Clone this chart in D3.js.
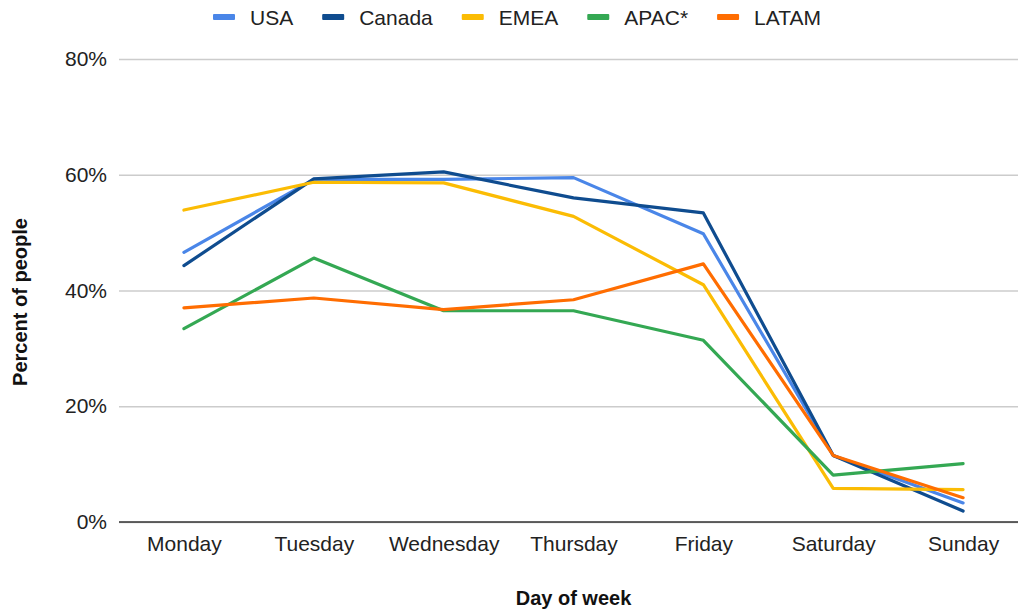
<!DOCTYPE html>
<html>
<head>
<meta charset="utf-8">
<script src="https://cdn.jsdelivr.net/npm/d3@7"></script>
<style>
  html, body { margin: 0; padding: 0; background: #fff; }
  svg { display: block; font-family: "Liberation Sans", Arial, Helvetica, sans-serif; }
</style>
</head>
<body>
<svg id="chart" width="1018" height="610"></svg>
<script>
// Share of people by day of week, per region (percent)
const days = ["Monday", "Tuesday", "Wednesday", "Thursday", "Friday", "Saturday", "Sunday"];
const regions = ["USA", "Canada", "EMEA", "APAC*", "LATAM"];
const usa    = [46.6, 59.2, 59.2, 59.5, 49.8, 11.5, 3.3];
const canada = [44.3, 59.3, 60.5, 56.0, 53.4, 11.5, 1.9];
const emea   = [53.9, 58.7, 58.6, 52.8, 41.0, 5.8, 5.6];
const apac   = [33.4, 45.6, 36.5, 36.5, 31.4, 8.1, 10.1];
const latam  = [37.0, 38.7, 36.7, 38.4, 44.6, 11.5, 4.2];
const yTicks = [0, 20, 40, 60, 80];

const seriesValues = [usa, canada, emea, apac, latam];
const colors = ["#4a86e8", "#0f4c8f", "#fbbc04", "#34a853", "#ff6d01"];

const W = 1018, H = 610;
const margin = { left: 119, right: -10, top: 59, bottom: 88 };
const svg = d3.select("#chart");

const x = d3.scalePoint()
  .domain(days)
  .range([margin.left, W - margin.right])
  .padding(0.5);

const y = d3.scaleLinear()
  .domain([0, 80])
  .range([H - margin.bottom, margin.top]);

// Horizontal gridlines and percentage labels
const yAxis = svg.append("g")
  .attr("transform", `translate(${margin.left},0)`)
  .call(d3.axisLeft(y).tickValues(yTicks).tickFormat(d => d + "%")
    .tickSize(-(W - margin.left)).tickPadding(12));
yAxis.select(".domain").remove();
yAxis.selectAll(".tick line").attr("stroke", "#cccccc").attr("stroke-width", 1.3);
yAxis.selectAll(".tick text")
  .attr("font-size", 21).attr("fill", "#222").attr("font-family", "Liberation Sans, Arial, sans-serif");

// Day labels along the bottom
const xAxis = svg.append("g")
  .attr("transform", `translate(0,${H - margin.bottom})`)
  .call(d3.axisBottom(x).tickSize(0).tickPadding(14));
xAxis.select(".domain").remove();
xAxis.selectAll(".tick text")
  .attr("font-size", 21).attr("fill", "#222").attr("font-family", "Liberation Sans, Arial, sans-serif");

// Baseline at 0%
svg.append("line")
  .attr("x1", margin.left).attr("x2", W)
  .attr("y1", y(0)).attr("y2", y(0))
  .attr("stroke", "#333").attr("stroke-width", 1.5);

// Region lines
const line = d3.line()
  .x((d, i) => x(days[i]))
  .y(d => y(d));

svg.append("g")
  .selectAll("path")
  .data(seriesValues)
  .join("path")
  .attr("d", line)
  .attr("fill", "none")
  .attr("stroke", (d, i) => colors[i])
  .attr("stroke-width", 3.2)
  .attr("stroke-linejoin", "round")
  .attr("stroke-linecap", "round");

// Axis titles
svg.append("text")
  .attr("x", (margin.left + W - margin.right) / 2)
  .attr("y", 605)
  .attr("text-anchor", "middle")
  .attr("font-size", 20).attr("font-weight", "bold").attr("fill", "#111")
  .text("Day of week");

svg.append("text")
  .attr("transform", `translate(27,302) rotate(-90)`)
  .attr("text-anchor", "middle")
  .attr("font-size", 20).attr("font-weight", "bold").attr("fill", "#111")
  .text("Percent of people");

// Legend across the top
const legend = svg.append("g").attr("transform", "translate(213,17)");
let cursor = 0;
regions.forEach((name, i) => {
  const item = legend.append("g").attr("transform", `translate(${cursor},0)`);
  item.append("rect")
    .attr("x", 0).attr("y", -3).attr("width", 22).attr("height", 6)
    .attr("rx", 1).attr("fill", colors[i]);
  const t = item.append("text")
    .attr("x", 37).attr("y", 0).attr("dy", "0.36em")
    .attr("font-size", 21).attr("fill", "#222")
    .text(name);
  cursor += 37 + t.node().getComputedTextLength() + 29;
});
</script>
</body>
</html>
